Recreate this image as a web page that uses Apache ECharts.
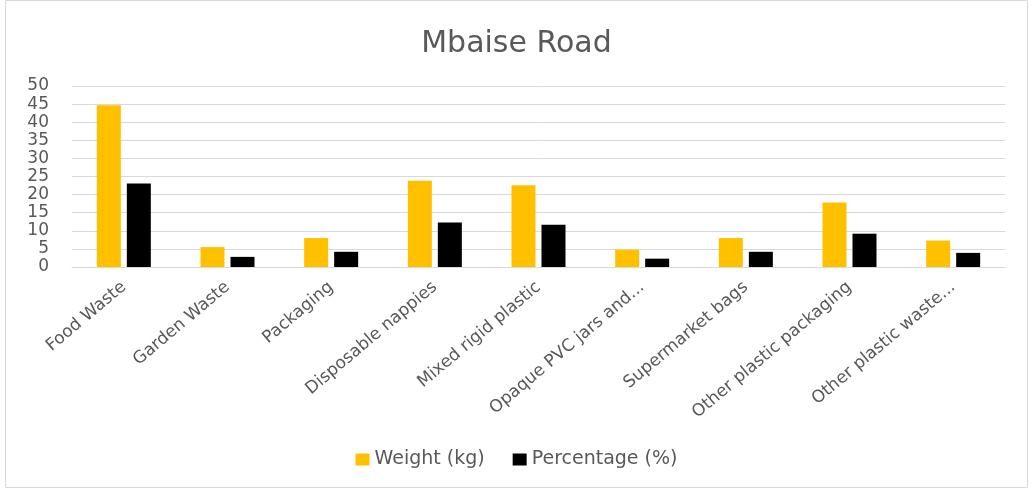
<!DOCTYPE html>
<html>
<head>
<meta charset="utf-8">
<script src="https://cdn.jsdelivr.net/npm/echarts@6/dist/echarts.min.js"></script>
<style>
  html, body { margin: 0; padding: 0; background: #fff; }
  #chart { width: 1033px; height: 489px; }
</style>
</head>
<body>
<div id="chart"></div>
<script>
// categories and values
const categories = [
  "Food Waste", "Garden Waste", "Packaging", "Disposable nappies",
  "Mixed rigid plastic", "Opaque PVC jars and...", "Supermarket bags",
  "Other plastic packaging", "Other plastic waste..."
];
const weightKg = [44.7, 5.5, 8.0, 23.8, 22.6, 4.8, 8.0, 17.8, 7.3];
const percentage = [23.1, 2.8, 4.2, 12.3, 11.7, 2.3, 4.2, 9.2, 3.9];
const yTicks = { min: 0, max: 50, interval: 5 };

const chart = echarts.init(document.getElementById("chart"));
const txt = "#595959";
const font = "'DejaVu Sans', sans-serif";

chart.setOption({
  animation: false,
  textStyle: { fontFamily: font },
  color: ["#FFC000", "#000000"],
  title: {
    text: "Mbaise Road",
    left: "center",
    top: 24,
    textStyle: { color: txt, fontSize: 30, fontWeight: "normal", fontFamily: font }
  },
  // 图例在底部
  legend: {
    data: ["Weight (kg)", "Percentage (%)"],
    bottom: 15,
    left: "center",
    itemWidth: 14,
    itemHeight: 12,
    itemGap: 28,
    icon: "rect",
    textStyle: { color: txt, fontSize: 19, fontFamily: font }
  },
  graphic: [{
    type: "rect",
    shape: { x: 5.5, y: 0.5, width: 1022, height: 487 },
    style: { fill: "none", stroke: "#d9d9d9", lineWidth: 1 },
    silent: true
  }],
  grid: { left: 72, right: 28, top: 86, bottom: 222 },
  xAxis: {
    type: "category",
    data: categories,
    axisTick: { show: false },
    axisLine: { lineStyle: { color: "#d9d9d9" } },
    axisLabel: { rotate: 40, interval: 0, color: txt, fontSize: 17, margin: 18, fontFamily: font }
  },
  yAxis: {
    type: "value",
    min: yTicks.min,
    max: yTicks.max,
    interval: yTicks.interval,
    axisLine: { show: false },
    axisTick: { show: false },
    axisLabel: { color: txt, fontSize: 17, margin: 23, fontFamily: font },
    splitLine: { lineStyle: { color: "#d9d9d9" } }
  },
  series: [
    { name: "Weight (kg)", type: "bar", data: weightKg, barWidth: 24, barGap: "25%" },
    { name: "Percentage (%)", type: "bar", data: percentage, barWidth: 24, barGap: "25%" }
  ]
});
</script>
</body>
</html>
